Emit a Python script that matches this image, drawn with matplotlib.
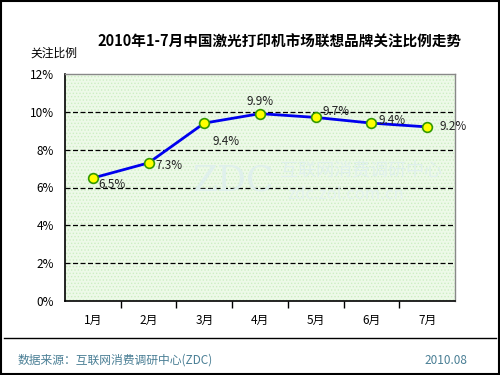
import matplotlib
matplotlib.use('Agg')
import matplotlib.pyplot as plt
from matplotlib.patches import Rectangle
from matplotlib.lines import Line2D

plt.rcParams['font.family'] = ['Noto Sans CJK SC', 'DejaVu Sans']
plt.rcParams['hatch.linewidth'] = 0.6

# 数据
months = ['1月', '2月', '3月', '4月', '5月', '6月', '7月']
share = [6.5, 7.3, 9.4, 9.9, 9.7, 9.4, 9.2]
yticks = [0, 2, 4, 6, 8, 10, 12]
# 标签偏移 (points)
label_off = [(4, -5), (5, -2), (16, -13), (0, 9), (5, 4), (5, 2), (9, 0)]
label_ha = ['left', 'left', 'center', 'center', 'left', 'left', 'left']

fig = plt.figure(figsize=(5, 3.75), dpi=100)
fig.patch.set_facecolor('white')
ax = fig.add_axes([0.13, 0.197, 0.78, 0.606])

ax.set_facecolor('#edf9e8')
ax.add_patch(Rectangle((0, 0), 1, 1, transform=ax.transAxes, facecolor='none',
                       edgecolor='#cdeec4', hatch='.....', linewidth=0, zorder=0))

x = list(range(len(months)))
ax.set_xlim(-0.5, 6.5)
ax.set_ylim(0, 12)
for v in yticks[1:-1]:
    ax.axhline(v, color='black', linestyle=(0, (4, 2)), linewidth=0.9, zorder=1)

# 水印
ax.text(0.43, 0.53, 'ZDC', transform=ax.transAxes, fontsize=26, color='#dff0ec',
        family='DejaVu Serif', ha='center', va='center', zorder=1)
ax.text(0.76, 0.57, '互联网消费调研中心', transform=ax.transAxes, fontsize=13,
        color='#dff0ec', ha='center', va='center', zorder=1)
ax.text(0.72, 0.47, 'zdc.zol.com.cn', transform=ax.transAxes, fontsize=12,
        color='#e3f2ee', ha='center', va='center', zorder=1)

ax.plot(x, share, color='#0000ee', linewidth=2, marker='o', markersize=7,
        markerfacecolor='#ffff00', markeredgecolor='#339900', markeredgewidth=1.2, zorder=3)

for i, v in enumerate(share):
    ax.annotate(f'{v}%', (x[i], v), xytext=label_off[i], textcoords='offset points',
                ha=label_ha[i], va='center', fontsize=8.5, color='#222222', zorder=4)

ax.set_yticks(yticks)
ax.set_yticklabels([f'{v}%' for v in yticks], fontsize=8.5)
ax.set_xticks([i + 0.5 for i in x[:-1]])
ax.set_xticklabels([])
ax.tick_params(axis='x', direction='out', length=5, width=1, color='black')
ax.tick_params(axis='y', length=0, pad=8)
for i, m in enumerate(months):
    ax.text(x[i], -1.0, m, ha='center', va='center', fontsize=8.5)

for s in ['left', 'bottom']:
    ax.spines[s].set_color('black')
    ax.spines[s].set_linewidth(1.2)
for s in ['top', 'right']:
    ax.spines[s].set_color('#888888')
    ax.spines[s].set_linewidth(1)

fig.text(0.56, 0.888, '2010年1-7月中国激光打印机市场联想品牌关注比例走势',
         ha='center', va='center', fontsize=10.5, fontweight='bold')
fig.text(0.06, 0.857, '关注比例', ha='left', va='center', fontsize=8.5)

fig.add_artist(Line2D([0.008, 0.992], [0.099, 0.099], color='black', linewidth=1))
fig.text(0.035, 0.04, '数据来源：互联网消费调研中心(ZDC)', ha='left', va='center',
         fontsize=8.5, color='#4a7f95')
fig.text(0.935, 0.04, '2010.08', ha='right', va='center', fontsize=8.5, color='#4a7f95')
fig.add_artist(Rectangle((0.002, 0.003), 0.996, 0.994, transform=fig.transFigure,
                         fill=False, edgecolor='black', linewidth=1.5))

fig.savefig('out.png', dpi=100)
